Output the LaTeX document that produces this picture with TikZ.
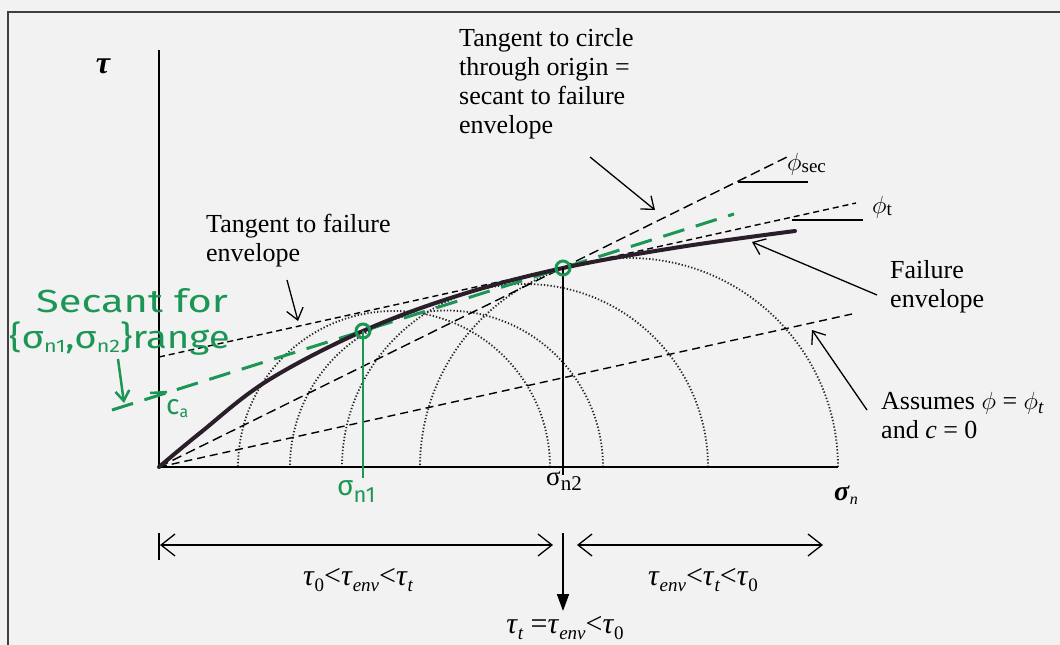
\documentclass[tikz,border=0pt]{standalone}
\usepackage{fontspec}
\setmainfont{Liberation Serif}
\newfontfamily\hand{Fira Sans}
\usetikzlibrary{arrows.meta}
\definecolor{bg}{HTML}{F2F2F2}
\definecolor{grn}{HTML}{1C9654}
\definecolor{envc}{HTML}{2B1E2B}
\newcommand\gk[1]{\textit{#1}}
\newcommand\phig{$\phi$}
\newcommand\lowsub[2]{\raisebox{#1}{\fontsize{19}{19}\selectfont #2}}
\begin{document}
\begin{tikzpicture}[x=1pt,y=-1pt,
  lbl/.style={inner sep=0pt, font=\fontsize{26}{29}\selectfont, align=left, anchor=base west},
  annot/.style={line width=1.3pt, -{Straight Barb[length=11pt,width=17pt,line width=1.3pt]}},
  dimarrow/.style={line width=1.3pt, {Straight Barb[length=14pt,width=22pt,line width=1.3pt]}-{Straight Barb[length=14pt,width=22pt,line width=1.3pt]}},
  axisline/.style={line width=1.6pt, black},
  mohr/.style={line width=1.8pt, dash pattern=on 1.3pt off 2pt, black!85},
  secline/.style={line width=1.4pt, dash pattern=on 10pt off 5pt},
  tanline/.style={line width=1.4pt, dash pattern=on 6pt off 4pt},
  assline/.style={line width=1.4pt, dash pattern=on 8pt off 5pt},
  grnline/.style={line width=3pt, grn, dash pattern=on 22pt off 12pt},
  greentext/.style={inner sep=0pt, font=\hand\fontsize{32}{34}\selectfont, text=grn, anchor=base west},
  rangetxt/.style={inner sep=0pt, font=\fontsize{30}{30}\selectfont, anchor=base}
]
\useasboundingbox (0,0) rectangle (1060,645);
\fill[bg] (0,0) rectangle (1060,645);
\draw[line width=2pt, black!75] (8,645) -- (8,12) -- (1060,12);

% key points
\coordinate (O) at (159,467);
\coordinate (Ytop) at (159,50);
\coordinate (Xend) at (838,467);
\coordinate (P1) at (363,331);
\coordinate (P2) at (563,268);
\coordinate (P1b) at (363,478);
\coordinate (P2b) at (563,475);

% Mohr circles
\foreach \l/\r in {238/550, 290/603, 342/708, 420/838}{
  \draw[mohr] (\r,467) arc[start angle=0, end angle=-180, radius={(\r-\l)/2}];
}

% axes
\draw[axisline] (Ytop) -- (O) -- (Xend);

% lines
\coordinate (Sec) at (787,157);
\coordinate (T0) at (159,357);
\coordinate (Tt) at (856,203);
\coordinate (Aend) at (852,314);
\coordinate (G0) at (112,410);
\coordinate (G1) at (734,214);
\draw[secline] (O) -- (Sec);
\draw[tanline] (T0) -- (Tt);
\draw[assline] (O) -- (Aend);
\draw[grnline] (G0) -- (G1);

% reference horizontals
\coordinate (hs0) at (738,182); \coordinate (hs1) at (808,182);
\coordinate (ht0) at (792,220); \coordinate (ht1) at (863,220);
\draw[line width=1.3pt] (hs0) -- (hs1);
\draw[line width=1.3pt] (ht0) -- (ht1);

% failure envelope
\draw[envc, line width=4pt, line cap=round] plot[smooth, tension=0.6] coordinates {(159,467) (200,433) (267,381) (363,331) (460,295) (563,268) (680,247) (795,231)};

% verticals
\draw[grn, line width=2.5pt] (P1) -- (P1b);
\draw[line width=2pt] (P2) -- (P2b);
\draw[grn, line width=3pt] (P1) circle[radius=7];
\draw[grn, line width=3pt] (P2) circle[radius=7];

% c_a
\coordinate (ca0) at (150,393); \coordinate (ca1) at (167,392);
\draw[grn, line width=2.5pt] (ca0) -- (ca1);
\node[greentext, font=\hand\fontsize{28}{30}\selectfont] (ca) at (166,414) {c\raisebox{-3pt}{\fontsize{16}{16}\selectfont a}};

% green annotation
\node[greentext] (sec1) at (36,312) {\scalebox{1.3}[1]{Secant for}};
\node[greentext] (sec2) at (9,348) {\scalebox{1.2}[1]{\{σ\raisebox{-4pt}{\fontsize{18}{18}\selectfont n1},σ\raisebox{-4pt}{\fontsize{18}{18}\selectfont n2}\}range}};
\coordinate (ga0) at (118,359); \coordinate (ga1) at (124,403);
\draw[grn, line width=2.5pt, -{Straight Barb[length=10pt,width=14pt,line width=2.5pt]}] (ga0) -- (ga1);

% axis labels
\node[inner sep=0pt, font=\fontsize{32}{32}\selectfont\bfseries\itshape] (tau) at (103,66) {τ};
\node[inner sep=0pt, font=\fontsize{28}{28}\selectfont, anchor=base west] (sig) at (834,500) {\textbf{\textit{σ}}\raisebox{-4pt}{\fontsize{16}{16}\selectfont\itshape n}};
\node[greentext, font=\hand\fontsize{28}{30}\selectfont] (sn1) at (337,495) {σ\raisebox{-7pt}{\fontsize{22}{22}\selectfont n1}};
\node[inner sep=0pt, font=\fontsize{27}{27}\selectfont, anchor=base west] (sn2) at (546,485) {σ\raisebox{-5pt}{\fontsize{21}{21}\selectfont n2}};

% text labels
\node[lbl] (tc) at (459,133) {Tangent to circle\\through origin =\\secant to failure\\envelope};
\node[lbl] (tf) at (206,261) {Tangent to failure\\envelope};
\node[lbl] (fe) at (890,307) {Failure\\envelope};
\node[lbl] (as) at (881,438) {Assumes \phig{} = \phig\lowsub{-4pt}{\itshape t}\\and \gk{c} = 0};
\node[inner sep=0pt, font=\fontsize{27}{27}\selectfont, anchor=base west] (phs) at (787,170) {\phig\lowsub{-2pt}{sec}};
\node[inner sep=0pt, font=\fontsize{27}{27}\selectfont, anchor=base west] (pht) at (872,213) {\phig\lowsub{-2pt}{t}};

% annotation arrows
\coordinate (a1s) at (287,280); \coordinate (a1e) at (298,321);
\coordinate (a2s) at (590,157); \coordinate (a2e) at (655,210);
\coordinate (a3s) at (877,295); \coordinate (a3e) at (752,242);
\coordinate (a4s) at (867,410); \coordinate (a4e) at (812,330);
\draw[annot] (a1s) -- (a1e);
\draw[annot] (a2s) -- (a2e);
\draw[annot] (a3s) -- (a3e);
\draw[annot] (a4s) -- (a4e);

% bottom ranges
\coordinate (b0t) at (159,533); \coordinate (b0b) at (159,560);
\coordinate (bL0) at (160,545); \coordinate (bL1) at (553,545);
\coordinate (bR0) at (577,545); \coordinate (bR1) at (823,545);
\coordinate (bm0) at (563,533); \coordinate (bm1) at (563,611);
\draw[line width=2pt] (b0t) -- (b0b);
\draw[dimarrow] (bL0) -- (bL1);
\draw[dimarrow] (bR0) -- (bR1);
\draw[line width=1.8pt, -{Triangle[length=17pt,width=12pt]}] (bm0) -- (bm1);

\node[rangetxt] (r1) at (358,585) {\gk{τ}\lowsub{-6pt}{0}<\gk{τ}\lowsub{-6pt}{\itshape env}<\gk{τ}\lowsub{-6pt}{\itshape t}};
\node[rangetxt] (r2) at (703,585) {\gk{τ}\lowsub{-6pt}{\itshape env}<\gk{τ}\lowsub{-6pt}{\itshape t}<\gk{τ}\lowsub{-6pt}{0}};
\node[rangetxt] (r3) at (565,633) {\gk{τ}\lowsub{-6pt}{\itshape t} =\gk{τ}\lowsub{-6pt}{\itshape env}<\gk{τ}\lowsub{-6pt}{0}};
\end{tikzpicture}
\end{document}
